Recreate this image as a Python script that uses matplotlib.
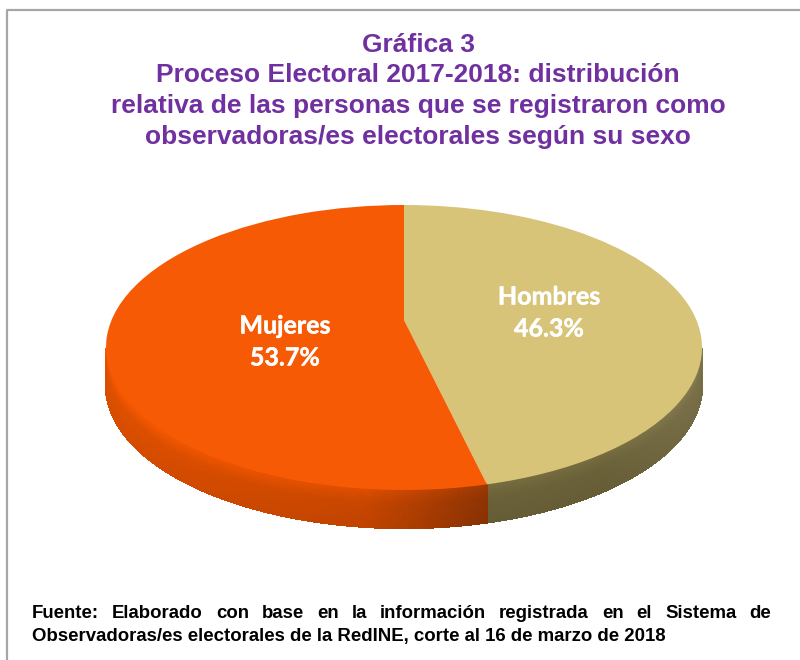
import matplotlib
matplotlib.use('Agg')
import matplotlib.pyplot as plt
import matplotlib.patheffects as pe
import numpy as np
from matplotlib.collections import PolyCollection
from matplotlib.colors import to_rgb
from matplotlib.lines import Line2D
from matplotlib.transforms import Transform

categories = ['Hombres', 'Mujeres']
values = [46.3, 53.7]
title_lines = ['Gráfica 3',
               'Proceso Electoral 2017-2018: distribución',
               'relativa de las personas que se registraron como',
               'observadoras/es electorales según su sexo']
source_lines = ['Fuente: Elaborado con base en la información registrada en el Sistema de',
                'Observadoras/es electorales de la RedINE, corte al 16 de marzo de 2018']

TOP_COLORS = ['#D7C478', '#F75A05']
# side wall colours, from left to right along the visible arc
SIDE_COLORS = [['#6A6139', '#6A6139', '#7A7049'],
               ['#E05000', '#C84600', '#8C3303']]
PURPLE = '#7030A0'

# pie centre and perspective, in pixels
CX, CY = 404, 320
SCALE_X, SCALE_Y, TILT = 292.4, 137.2, 0.193
DEPTH = 38


class Tilted(Transform):
    input_dims = 2
    output_dims = 2

    def transform_non_affine(self, xy):
        xy = np.asarray(xy, dtype=float)
        w = 1 + TILT * xy[:, 1]
        return np.column_stack([CX + SCALE_X * xy[:, 0] / w, CY - SCALE_Y * xy[:, 1] / w])


def Draw_Side(ax, start, end, colors, stops):
    thetas = np.radians(np.linspace(start, end, 240))
    thetas = thetas[np.cos(thetas) < -TILT]  # only the front of the wall shows
    px = Tilted().transform_non_affine(np.column_stack([np.sin(thetas), np.cos(thetas)]))
    rgb = np.array([to_rgb(c) for c in colors])
    polys, face = [], []
    for d0 in range(0, DEPTH, 2):
        shade = 1.1 if d0 < 4 else np.interp(d0, [4, 14, DEPTH], [1.08, 1.0, 0.96])
        for i in range(len(px) - 1):
            x0, y0 = px[i]
            x1, y1 = px[i + 1]
            polys.append([(x0, y0 + d0), (x1, y1 + d0), (x1, y1 + d0 + 2), (x0, y0 + d0 + 2)])
            col = [np.interp((x0 + x1) / 2, stops, rgb[:, k]) * shade for k in range(3)]
            face.append(np.clip(col, 0, 1))
    ax.add_collection(PolyCollection(polys, facecolors=face, edgecolors=face, linewidths=1.0,
                                     antialiaseds=False, zorder=1))


def Justified_Line(fig, ax, text, x0, x1, y, **kw):
    words = text.split(' ')
    renderer = fig.canvas.get_renderer()
    widths = []
    for w in words:
        t = ax.text(0, 0, w, **kw)
        widths.append(t.get_window_extent(renderer).width)
        t.remove()
    gap = (x1 - x0 - sum(widths)) / (len(words) - 1)
    x = x0
    for w, wd in zip(words, widths):
        ax.text(x, y, w, ha='left', va='center', **kw)
        x += wd + gap


fig = plt.figure(figsize=(8, 6.6), dpi=100, facecolor='w')
ax = fig.add_axes([0, 0, 1, 1])

wedges, _ = ax.pie(values, colors=TOP_COLORS, startangle=90, counterclock=False, radius=1)
ax.set_aspect('auto')
ax.set_xlim(0, 800)
ax.set_ylim(660, 0)
ax.axis('off')

# side wall first, then the top face over it
edges = np.concatenate([[0], np.cumsum(values)]) / sum(values) * 360
side_stops = [[CX + 80, CX + 200, CX + 298], [CX - 298, CX - 40, CX + 85]]
for i in range(len(values)):
    Draw_Side(ax, edges[i], edges[i + 1], SIDE_COLORS[i], side_stops[i])
for w in wedges:
    w.set_transform(Tilted() + ax.transData)
    w.set_zorder(2)
    w.set_clip_on(False)
    w.set_edgecolor('none')

# frame of the slide, top and left only
ax.add_line(Line2D([7, 7, 800], [660, 10, 10], color='#A6A6A6', lw=1.6, zorder=3))

for line, y in zip(title_lines, [45, 75, 106, 137]):
    ax.text(418, y, line, ha='center', va='center', color=PURPLE, fontsize=19,
            fontweight='bold', family='Liberation Sans')

label_x = [549, 285]
label_y = [297, 326]
stroke = [pe.withStroke(linewidth=0.3, foreground='w')]
for name, val, x, y in zip(categories, values, label_x, label_y):
    ax.text(x, y, name, ha='center', va='center', color='w', fontsize=18, fontweight='bold',
            family='Lato', zorder=4, path_effects=stroke)
    ax.text(x, y + 32, f'{val}%', ha='center', va='center', color='w', fontsize=18,
            fontweight='bold', family='Lato', zorder=4, path_effects=stroke)

source_style = dict(color='black', fontsize=13.4, fontweight='bold', family='Liberation Sans')
Justified_Line(fig, ax, source_lines[0], 32, 771, 613, **source_style)
ax.text(32, 636, source_lines[1], ha='left', va='center', **source_style)

fig.savefig('out.png', dpi=100)
